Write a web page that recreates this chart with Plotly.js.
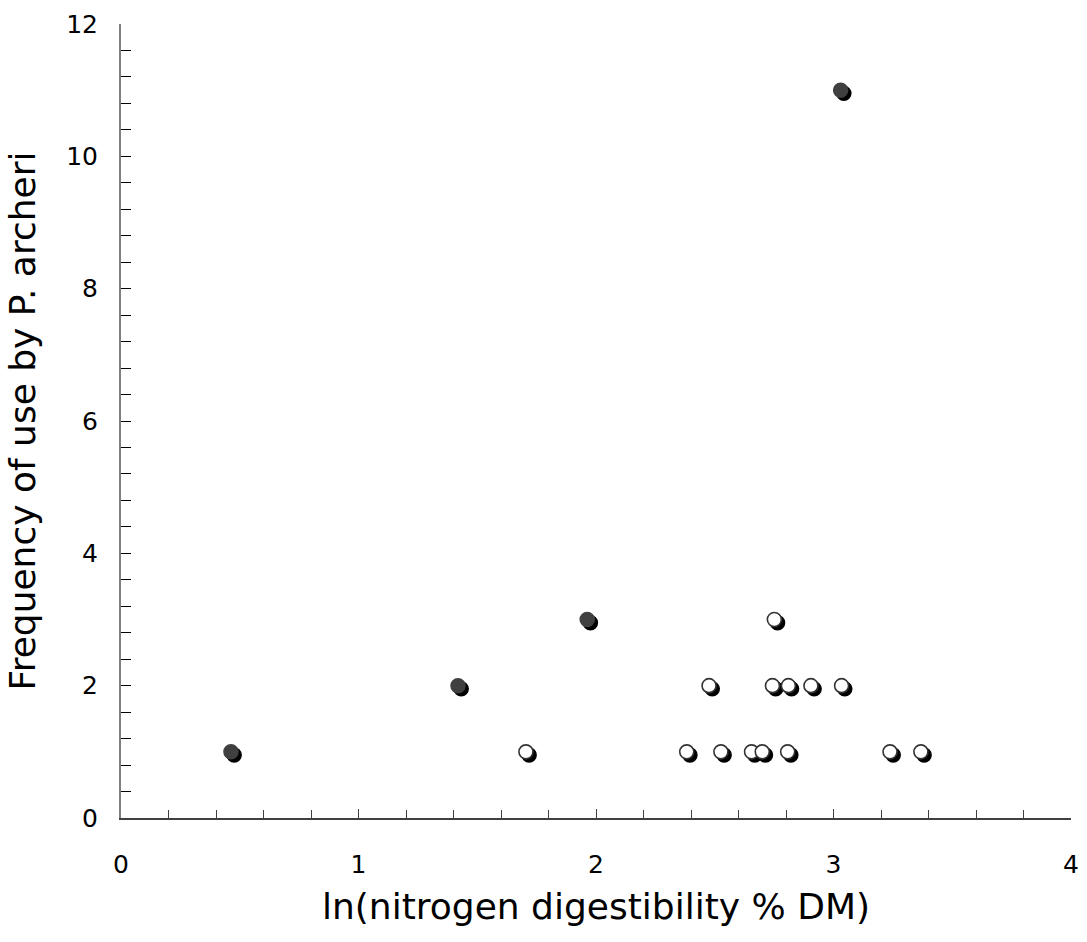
<!DOCTYPE html>
<html>
<head>
<meta charset="utf-8">
<script src="https://cdn.plot.ly/plotly-3.0.1.min.js"></script>
<style>html,body{margin:0;padding:0;background:#fff;}#chart{width:1087px;height:942px;}</style>
</head>
<body>
<div id="chart"></div>
<script>
// Data
var darkX = [0.463, 1.419, 1.963, 3.03];
var darkY = [1, 2, 3, 11];
var whiteX = [1.705, 2.382, 2.526, 2.655, 2.70, 2.807, 3.238, 3.368,
              2.476, 2.743, 2.81, 2.905, 3.034,
              2.751];
var whiteY = [1, 1, 1, 1, 1, 1, 1, 1,
              2, 2, 2, 2, 2,
              3];
var xTickVals = [0, 1, 2, 3, 4];
var yTickVals = [0, 2, 4, 6, 8, 10, 12];

var FONT = 'DejaVu Sans, Verdana, sans-serif';
var xRange = [0, 4], yRange = [0, 12];
var plotW = 1087 - 121 - 16, plotH = 942 - 24 - 124;
var shadowPx = 3.2;
var dx = shadowPx * (xRange[1] - xRange[0]) / plotW;
var dy = shadowPx * (yRange[1] - yRange[0]) / plotH;

var msize = 14;
var traces = [
  // invisible trace keeping the main (axis-bearing) subplot alive
  {x: darkX, y: darkY, mode: 'markers', type: 'scatter',
   marker: {size: msize, color: 'rgba(0,0,0,0)'}, hoverinfo: 'skip'},
  {x: darkX, y: darkY, xaxis: 'x2', yaxis: 'y2', mode: 'markers', type: 'scatter',
   marker: {size: msize, color: '#000', line: {width: 1.5, color: '#000'}}, hoverinfo: 'skip'},
  {x: whiteX, y: whiteY, xaxis: 'x2', yaxis: 'y2', mode: 'markers', type: 'scatter',
   marker: {size: msize, color: '#000', line: {width: 1.5, color: '#000'}}, hoverinfo: 'skip'},
  {x: darkX, y: darkY, xaxis: 'x3', yaxis: 'y3', mode: 'markers', type: 'scatter',
   marker: {size: msize, color: '#404040', line: {width: 1.5, color: '#404040'}}},
  {x: whiteX, y: whiteY, xaxis: 'x3', yaxis: 'y3', mode: 'markers', type: 'scatter',
   marker: {size: msize, color: '#ffffff', line: {width: 1.6, color: '#333333'}}}
];

var layout = {
  width: 1087, height: 942,
  margin: {l: 121, r: 16, t: 24, b: 124},
  paper_bgcolor: '#fff', plot_bgcolor: '#fff',
  showlegend: false,
  font: {family: FONT, color: '#000'},
  xaxis: {
    range: xRange, showgrid: false, zeroline: false,
    showline: true, linecolor: '#404040', linewidth: 1.5,
    ticks: 'inside', ticklen: 9, tickwidth: 1, tickcolor: '#404040',
    tickmode: 'array', tickvals: xTickVals,
    minor: {dtick: 0.2, ticks: 'inside', ticklen: 8, tickwidth: 1, tickcolor: '#404040', showgrid: false},
    tickfont: {size: 25, family: FONT, color: '#000'},
    ticklabelstandoff: 23,
    title: {text: 'ln(nitrogen digestibility % DM)', font: {size: 36, family: FONT, color: '#000'}, standoff: 16}
  },
  yaxis: {
    range: yRange, showgrid: false, zeroline: false,
    showline: true, linecolor: '#808080', linewidth: 2,
    ticks: 'inside', ticklen: 10, tickwidth: 1, tickcolor: '#000',
    tickmode: 'array', tickvals: yTickVals,
    minor: {dtick: 0.4, ticks: 'inside', ticklen: 10, tickwidth: 1, tickcolor: '#000', showgrid: false},
    tickfont: {size: 25, family: FONT, color: '#000'},
    ticklabelstandoff: 16,
    title: {text: 'Frequency of use by P. archeri', font: {size: 36, family: FONT, color: '#000'}, standoff: 20}
  },
  xaxis2: {range: [xRange[0] - dx, xRange[1] - dx], overlaying: 'x', visible: false},
  yaxis2: {range: [yRange[0] + dy, yRange[1] + dy], overlaying: 'y', visible: false},
  xaxis3: {range: xRange, overlaying: 'x', visible: false},
  yaxis3: {range: yRange, overlaying: 'y', visible: false}
};

Plotly.newPlot('chart', traces, layout, {displayModeBar: false, staticPlot: true});
</script>
</body>
</html>
